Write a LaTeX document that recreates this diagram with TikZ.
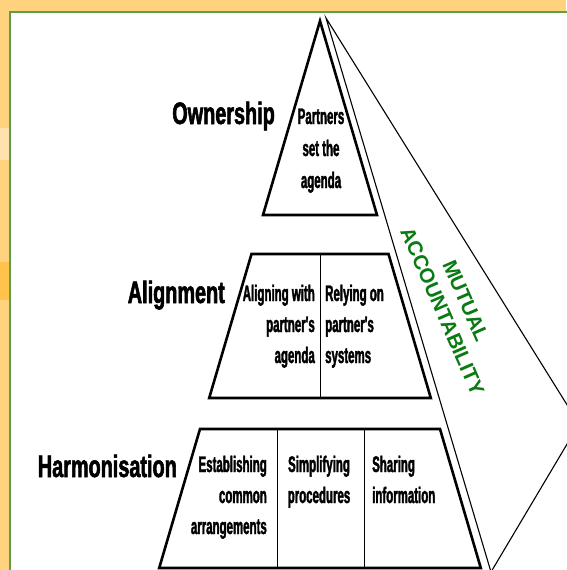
\documentclass[tikz,border=0pt]{standalone}
\usepackage{fontspec}
\newfontfamily\labfont{Liberation Sans Bold}[FakeStretch=0.64,FakeBold=1.8]
\newfontfamily\txtfont{Liberation Sans Bold}[FakeStretch=0.51,FakeBold=1.6]
\newfontfamily\accfont{Liberation Sans Bold}
\definecolor{orangebg}{HTML}{FFD37E}
\definecolor{orangelight}{HTML}{FFE2AE}
\definecolor{orangedark}{HTML}{FFC34C}
\definecolor{panelgreen}{HTML}{5E9E48}
\definecolor{accgreen}{HTML}{0A7A12}
\begin{document}
\begin{tikzpicture}[x=1pt,y=-1pt,
  lab/.style={font=\labfont\fontsize{31}{31}\selectfont, inner sep=0pt, anchor=base east},
  txt/.style={font=\txtfont\fontsize{22.5}{22.5}\selectfont, inner sep=0pt},
  pedge/.style={line width=2.6pt, line join=miter},
  pdiv/.style={line width=1pt},
  pside/.style={line width=1.1pt},
  acc/.style={font=\accfont\fontsize{20.5}{25.5}\selectfont, text=accgreen, inner sep=0pt, align=center}]
\useasboundingbox (0,0) rectangle (566,570);
% background
\fill[orangebg] (0,0) rectangle (566,570);
\fill[orangelight] (0,128) rectangle (10,160);
\fill[orangedark] (0,262) rectangle (10,300);
\filldraw[fill=white, draw=panelgreen, line width=2pt] (10,12) rectangle (590,590);
% pyramid corner coordinates
\coordinate (apex) at (320,21);
\coordinate (t1) at (263,215);
\coordinate (t2) at (377,215);
\coordinate (m1) at (251.5,254);
\coordinate (m2) at (388.5,254);
\coordinate (m3) at (430.8,398);
\coordinate (m4) at (209.2,398);
\coordinate (b1) at (200,429);
\coordinate (b2) at (440,429);
\coordinate (b3) at (480.8,568);
\coordinate (b4) at (159.2,568);
% accountability face
\coordinate (s0) at (326,18);
\coordinate (s1) at (491,572);
\coordinate (s2) at (579,424);
\draw[pside] (s0) -- (s1) -- (s2) -- cycle;
% pyramid tiers
\draw[pedge] (apex) -- (t2) -- (t1) -- cycle;
\draw[pedge] (m1) -- (m2) -- (m3) -- (m4) -- cycle;
\draw[pedge] (b1) -- (b2) -- (b3) -- (b4) -- cycle;
% dividers
\coordinate (md1) at (320,254); \coordinate (md2) at (320,398);
\coordinate (bd1) at (277,429); \coordinate (bd2) at (277,568);
\coordinate (bd3) at (364,429); \coordinate (bd4) at (364,568);
\draw[pdiv] (md1) -- (md2);
\draw[pdiv] (bd1) -- (bd2);
\draw[pdiv] (bd3) -- (bd4);
% level labels
\node[lab] (own) at (275,124) {Ownership};
\node[lab] (ali) at (225,303) {Alignment};
\node[lab] (har) at (177,477) {Harmonisation};
% top tier text
\node[txt, anchor=base] (p1) at (321,124) {Partners};
\node[txt, anchor=base] (p2) at (321,156) {set the};
\node[txt, anchor=base] (p3) at (321,188) {agenda};
% middle tier text
\node[txt, anchor=base east] (a1) at (315,301) {Aligning with};
\node[txt, anchor=base east] (a2) at (315,332) {partner's};
\node[txt, anchor=base east] (a3) at (315,363) {agenda};
\node[txt, anchor=base west] (r1) at (325,301) {Relying on};
\node[txt, anchor=base west] (r2) at (325,332) {partner's};
\node[txt, anchor=base west] (r3) at (325,363) {systems};
% bottom tier text
\node[txt, anchor=base east] (e1) at (267,472) {Establishing};
\node[txt, anchor=base east] (e2) at (267,503) {common};
\node[txt, anchor=base east] (e3) at (267,534) {arrangements};
\node[txt, anchor=base] (sp1) at (319,472) {Simplifying};
\node[txt, anchor=base] (sp2) at (319,503) {procedures};
\node[txt, anchor=base west] (sh1) at (372,472) {Sharing};
\node[txt, anchor=base west] (sh2) at (372,503) {information};
% mutual accountability
\node[acc, rotate=-66.5] (mutacc) at (454,306) {MUTUAL\\ACCOUNTABILITY};
\end{tikzpicture}
\end{document}
